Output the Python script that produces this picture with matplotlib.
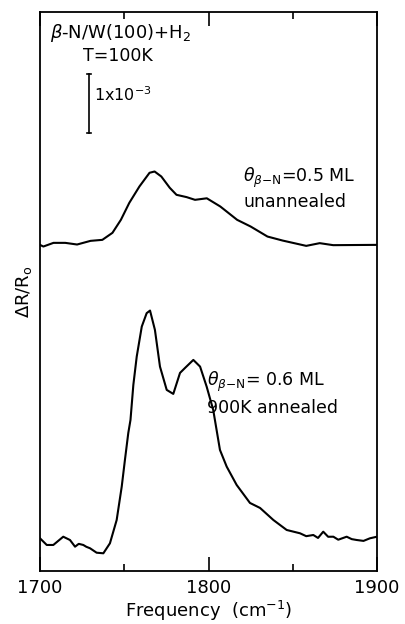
import numpy as np
import matplotlib
matplotlib.use("Agg")
import matplotlib.pyplot as plt
from matplotlib.ticker import MultipleLocator

plt.rcParams['font.family'] = ['DejaVu Sans']
plt.rcParams['mathtext.fontset'] = 'dejavusans'

# Frequency axis (cm^-1) and reflectance change (units of 1e-3)
freq_unannealed = [1700, 1702, 1708, 1715, 1722, 1730, 1737, 1743, 1748, 1753,
                   1759, 1765, 1768, 1772, 1777, 1781, 1787, 1792, 1799, 1807,
                   1817, 1825, 1835, 1844, 1858, 1866, 1874, 1900]
dr_unannealed = [0.025, -0.003, 0.059, 0.059, 0.031, 0.093, 0.110, 0.229, 0.449, 0.737,
                 1.014, 1.246, 1.268, 1.183, 0.992, 0.873, 0.834, 0.788, 0.814, 0.675,
                 0.449, 0.336, 0.166, 0.098, 0.008, 0.054, 0.020, 0.025]

freq_annealed = [1700.0, 1704.0, 1707.9, 1713.8, 1717.8, 1720.8, 1723.0, 1725.7, 1727.5,
                 1729.7, 1733.6, 1737.6, 1741.5, 1745.5, 1748.5, 1750.4, 1752.4, 1753.7,
                 1755.4, 1757.4, 1760.4, 1763.3, 1765.3, 1768.2, 1771.2, 1775.2, 1779.1,
                 1783.1, 1786.1, 1791.0, 1795.0, 1798.9, 1802.8, 1806.8, 1810.8, 1816.7,
                 1824.6, 1830.6, 1838.5, 1846.4, 1854.3, 1858.0, 1862.2, 1865.0, 1868.1,
                 1871.0, 1874.1, 1877.0, 1882.0, 1885.0, 1888.0, 1892.0, 1895.8, 1900.0]
dr_annealed = [0.004, -0.109, -0.109, 0.031, -0.025, -0.138, -0.090, -0.109, -0.140,
               -0.165, -0.240, -0.250, -0.081, 0.314, 0.879, 1.331, 1.789, 2.009,
               2.603, 3.082, 3.591, 3.818, 3.862, 3.535, 2.913, 2.518, 2.450,
               2.806, 2.891, 3.026, 2.913, 2.574, 2.179, 1.501, 1.218, 0.908,
               0.603, 0.518, 0.314, 0.145, 0.089, 0.040, 0.060, 0.010, 0.116,
               0.030, 0.031, -0.020, 0.031, -0.010, -0.025, -0.040, 0.004, 0.031]

offset_unannealed = 5.5
offset_annealed = 0.55

fig = plt.figure(figsize=(4.06, 6.24), dpi=100)
ax = fig.add_axes([40 / 406, 53 / 624, 337 / 406, 559 / 624])

ax.plot(freq_unannealed, np.array(dr_unannealed) + offset_unannealed,
        color='black', lw=1.5)
ax.plot(freq_annealed, np.array(dr_annealed) + offset_annealed,
        color='black', lw=1.5)

ax.set_xlim(1700, 1900)
ax.set_ylim(0, 9.47)

ax.xaxis.set_major_locator(MultipleLocator(100))
ax.xaxis.set_minor_locator(MultipleLocator(50))
ax.tick_params(axis='x', which='major', direction='in', length=10, width=1.2,
               top=True, labelsize=13, pad=6)
ax.tick_params(axis='x', which='minor', direction='in', length=5, width=1.2, top=True)
ax.set_yticks([])
for sp in ax.spines.values():
    sp.set_linewidth(1.3)

ax.set_xlabel('Frequency  (cm$^{-1}$)', fontsize=13, labelpad=1)
ax.set_ylabel(r'$\Delta$R/R$_{\rm o}$', fontsize=13, labelpad=4)

# scale bar for 1e-3
sb_x = 1729
sb_y0, sb_y1 = 7.42, 8.42
ax.plot([sb_x, sb_x], [sb_y0, sb_y1], color='black', lw=1.2)
ax.plot([sb_x - 1.2, sb_x + 1.2], [sb_y0, sb_y0], color='black', lw=1.2)
ax.plot([sb_x - 1.2, sb_x + 1.2], [sb_y1, sb_y1], color='black', lw=1.2)
ax.text(sb_x + 3, (sb_y0 + sb_y1) / 2 + 0.15, '1x10$^{-3}$', fontsize=11.5,
        ha='left', va='center')

ax.text(0.03, 0.963, r'$\beta$-N/W(100)+H$_2$', transform=ax.transAxes,
        fontsize=13, ha='left', va='center')
ax.text(0.23, 0.922, 'T=100K', transform=ax.transAxes,
        fontsize=12.5, ha='center', va='center')

ax.text(0.935, 0.703, r'$\theta_{\beta\mathrm{-N}}$=0.5 ML', transform=ax.transAxes,
        fontsize=12.5, ha='right', va='center')
ax.text(0.91, 0.66, 'unannealed', transform=ax.transAxes,
        fontsize=12.5, ha='right', va='center')

ax.text(0.495, 0.338, r'$\theta_{\beta\mathrm{-N}}$= 0.6 ML', transform=ax.transAxes,
        fontsize=12.5, ha='left', va='center')
ax.text(0.495, 0.292, '900K annealed', transform=ax.transAxes,
        fontsize=12.5, ha='left', va='center')

fig.savefig('out.png', dpi=100)
